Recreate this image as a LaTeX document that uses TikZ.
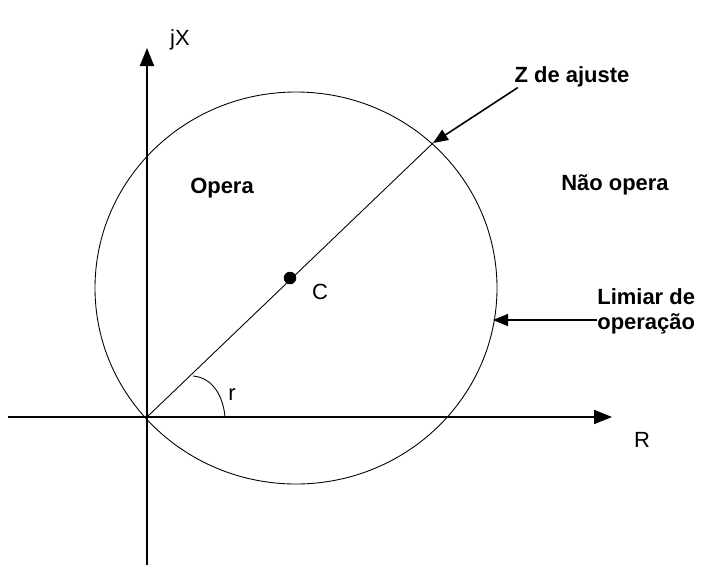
\documentclass[tikz,border=0pt]{standalone}
\usepackage{fontspec}
\setmainfont{Liberation Sans}
\usetikzlibrary{positioning, arrows.meta}

\begin{document}
\begin{tikzpicture}[
			axis/.style={line width=1.1pt, -{Triangle[length=0.36cm, width=0.28cm]}},
			pointer/.style={line width=0.9pt, -{Triangle[length=0.3cm, width=0.24cm]}},
			thinline/.style={line width=0.5pt},
			lbl/.style={font=\fontsize{12.5}{14}\selectfont\bfseries, align=left, inner sep=0pt},
			sym/.style={font=\fontsize{12.5}{14}\selectfont, inner sep=0pt},
			]
			\useasboundingbox (-2.94,-3.02) rectangle (11.1,8.34);
			
			%% ── Axes ───────────────────────────────────────────────────────────────
			\coordinate (O)  at (0,0);
			\coordinate (xs) at (-2.78,0);
			\coordinate (xe) at (9.3,0);
			\coordinate (ys) at (0,-2.96);
			\coordinate (ye) at (0,7.38);
			
			\draw[axis] (xs) -- (xe);
			\draw[axis] (ys) -- (ye);
			\node[sym] (jx) at (0.66,7.54) {jX};
			\node[sym] (R)  at (9.9,-0.46) {R};
			
			%% ── Circle and diameter ────────────────────────────────────────────────
			\draw[thinline] (2.98,2.58) ellipse [x radius=4.02, y radius=3.92];
			\coordinate (Z) at (5.72,5.48);
			\node[circle, fill, inner sep=0pt, minimum size=0.25cm] (c) at (2.86,2.78) {};
			\draw[thinline] (O) -- (Z);
			\node[sym] (clbl) at (3.46,2.5) {C};
			
			\coordinate (a1) at (1.56,0);
			\coordinate (a2) at (0.92,0.82);
			\draw[thinline] (a1) to[out=95, in=-5] (a2);
			\node[sym] (r) at (1.7,0.44) {r};
			
			%% ── Labels ─────────────────────────────────────────────────────────────
			\node[lbl] (opera)    at (1.5,4.58)  {Opera};
			\node[lbl] (naoopera) at (9.36,4.64) {Não opera};
			\node[lbl] (zaj)      at (8.5,6.8)   {Z de ajuste};
			\node[lbl, anchor=west] (limiar) at (9.0,2.11) {Limiar de\\operação};
			
			\coordinate (lim) at (6.92,1.94);
			\draw[pointer] ([xshift=2pt]zaj.south west) -- (Z);
			\draw[pointer] (limiar.west |- lim) -- (lim);
			
		\end{tikzpicture}
\end{document}
